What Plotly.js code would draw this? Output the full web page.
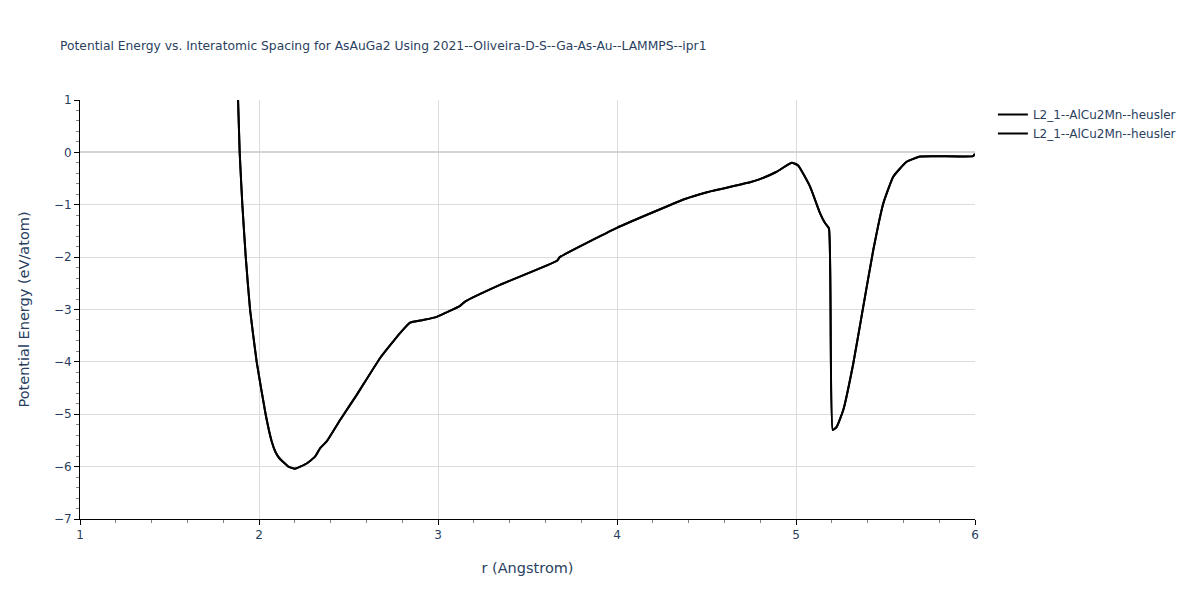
<!DOCTYPE html>
<html>
<head>
<meta charset="utf-8">
<script src="https://cdn.plot.ly/plotly-3.0.1.min.js"></script>
<style>html,body{margin:0;padding:0;background:#fff;}#chart{width:1200px;height:600px;}</style>
</head>
<body>
<div id="chart"></div>
<script>
const seriesName = "L2_1--AlCu2Mn--heusler";
const rValues = [1.883, 1.892, 1.907, 1.926, 1.950, 1.987, 2.037, 2.071, 2.092, 2.114, 2.164, 2.201, 2.266, 2.313, 2.341, 2.378, 2.453, 2.546, 2.676, 2.788, 2.844, 2.918, 2.993, 3.123, 3.151, 3.346, 3.665, 3.68, 4.0, 4.38, 4.503, 4.743, 4.799, 4.892, 4.976, 5.012, 5.078, 5.134, 5.162, 5.184, 5.205, 5.227, 5.264, 5.320, 5.376, 5.432, 5.488, 5.544, 5.618, 5.693, 5.804, 5.99, 6.0];
const energyValues = [1.0, 0, -1, -2, -3, -4, -5, -5.52, -5.72, -5.84, -6.0, -6.04, -5.94, -5.81, -5.65, -5.52, -5.11, -4.63, -3.93, -3.45, -3.25, -3.20, -3.14, -2.93, -2.85, -2.53, -2.07, -2.0, -1.44, -0.89, -0.76, -0.57, -0.51, -0.37, -0.196, -0.25, -0.65, -1.16, -1.35, -1.45, -5.30, -5.24, -4.92, -4.03, -2.94, -1.86, -0.97, -0.46, -0.18, -0.08, -0.075, -0.07, -0.03];

const traces = [0, 1].map(() => ({
  x: rValues, y: energyValues, type: 'scatter', mode: 'lines',
  name: seriesName, line: {color: 'black', width: 2, shape: 'spline', smoothing: 0.4}
}));

const axisCommon = {
  showline: true, linecolor: 'black', linewidth: 1,
  ticks: 'outside', tickcolor: 'black', ticklen: 5,
  gridcolor: '#dcdcdc', zeroline: true, zerolinecolor: '#d3d3d3', zerolinewidth: 2,
  tickfont: {size: 12, color: '#2a3f5f'},
  minor: {ticks: 'outside', ticklen: 3, tickcolor: 'gray', dtick: 0.2, showgrid: false}
};

const layout = {
  width: 1200, height: 600,
  paper_bgcolor: 'white', plot_bgcolor: 'white',
  font: {family: 'DejaVu Sans, sans-serif', color: '#2a3f5f'},
  title: {text: 'Potential Energy vs. Interatomic Spacing for AsAuGa2 Using 2021--Oliveira-D-S--Ga-As-Au--LAMMPS--ipr1', x: 0.05, font: {size: 12.3}},
  margin: {l: 80, r: 225, t: 100, b: 81},
  xaxis: Object.assign({}, axisCommon, {range: [1, 6], dtick: 1, title: {text: 'r (Angstrom)', font: {size: 14.5}}}),
  yaxis: Object.assign({}, axisCommon, {range: [-7, 1], dtick: 1, title: {text: 'Potential Energy (eV/atom)', font: {size: 14.5}, standoff: 20}}),
  legend: {font: {size: 12}},
  showlegend: true
};

Plotly.newPlot('chart', traces, layout, {displayModeBar: false});
</script>
</body>
</html>
